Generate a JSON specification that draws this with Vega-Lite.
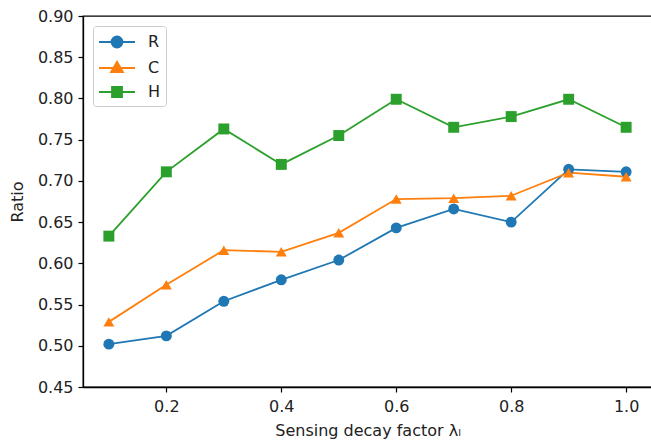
{
  "$schema": "https://vega.github.io/schema/vega-lite/v6.json",
  "width": 569,
  "height": 371,
  "autosize": "none",
  "padding": {"left": 83, "top": 16, "right": 0, "bottom": 59},
  "background": "white",
  "config": {
    "font": "DejaVu Sans",
    "view": {"stroke": "black", "strokeWidth": 1.3},
    "axis": {
      "grid": false,
      "domainColor": "black",
      "domainWidth": 1.3,
      "tickColor": "black",
      "tickSize": 5,
      "tickWidth": 1.2,
      "labelColor": "#222",
      "labelFont": "DejaVu Sans",
      "labelFontSize": 16,
      "titleFont": "DejaVu Sans",
      "titleFontSize": 16,
      "titleFontWeight": "normal",
      "titleColor": "#222"
    }
  },
  "data": {
    "values": [
      {"x": 0.1, "series": "R", "marker": "circle", "y": 0.502},
      {"x": 0.2, "series": "R", "marker": "circle", "y": 0.512},
      {"x": 0.3, "series": "R", "marker": "circle", "y": 0.554},
      {"x": 0.4, "series": "R", "marker": "circle", "y": 0.580},
      {"x": 0.5, "series": "R", "marker": "circle", "y": 0.604},
      {"x": 0.6, "series": "R", "marker": "circle", "y": 0.643},
      {"x": 0.7, "series": "R", "marker": "circle", "y": 0.666},
      {"x": 0.8, "series": "R", "marker": "circle", "y": 0.650},
      {"x": 0.9, "series": "R", "marker": "circle", "y": 0.714},
      {"x": 1.0, "series": "R", "marker": "circle", "y": 0.711},
      {"x": 0.1, "series": "C", "marker": "triangle", "y": 0.529},
      {"x": 0.2, "series": "C", "marker": "triangle", "y": 0.574},
      {"x": 0.3, "series": "C", "marker": "triangle", "y": 0.616},
      {"x": 0.4, "series": "C", "marker": "triangle", "y": 0.614},
      {"x": 0.5, "series": "C", "marker": "triangle", "y": 0.637},
      {"x": 0.6, "series": "C", "marker": "triangle", "y": 0.678},
      {"x": 0.7, "series": "C", "marker": "triangle", "y": 0.679},
      {"x": 0.8, "series": "C", "marker": "triangle", "y": 0.682},
      {"x": 0.9, "series": "C", "marker": "triangle", "y": 0.710},
      {"x": 1.0, "series": "C", "marker": "triangle", "y": 0.705},
      {"x": 0.1, "series": "H", "marker": "square", "y": 0.633},
      {"x": 0.2, "series": "H", "marker": "square", "y": 0.711},
      {"x": 0.3, "series": "H", "marker": "square", "y": 0.763},
      {"x": 0.4, "series": "H", "marker": "square", "y": 0.720},
      {"x": 0.5, "series": "H", "marker": "square", "y": 0.755},
      {"x": 0.6, "series": "H", "marker": "square", "y": 0.799},
      {"x": 0.7, "series": "H", "marker": "square", "y": 0.765},
      {"x": 0.8, "series": "H", "marker": "square", "y": 0.778},
      {"x": 0.9, "series": "H", "marker": "square", "y": 0.799},
      {"x": 1.0, "series": "H", "marker": "square", "y": 0.765}
    ]
  },
  "encoding": {
    "x": {
      "field": "x",
      "type": "quantitative",
      "scale": {"domain": [0.055, 1.045], "nice": false, "zero": false},
      "axis": {"values": [0.2, 0.4, 0.6, 0.8, 1.0], "format": ".1f", "labelPadding": 6, "titlePadding": 8},
      "title": "Sensing decay factor λₗ"
    },
    "y": {
      "field": "y",
      "type": "quantitative",
      "scale": {"domain": [0.45, 0.9], "nice": false, "zero": false},
      "axis": {"values": [0.45, 0.5, 0.55, 0.6, 0.65, 0.7, 0.75, 0.8, 0.85, 0.9], "format": ".2f", "labelPadding": 5, "titlePadding": 12},
      "title": "Ratio"
    },
    "color": {
      "field": "series",
      "type": "nominal",
      "scale": {"domain": ["R", "C", "H"], "range": ["#1f77b4", "#ff7f0e", "#2ca02c"]},
      "legend": {
        "title": null,
        "orient": "top-left",
        "offset": 10,
        "padding": 5,
        "strokeColor": "#cccccc",
        "fillColor": "white",
        "cornerRadius": 3,
        "symbolSize": 400,
        "symbolOffset": 8,
        "symbolStrokeWidth": 1.8,
        "labelFontSize": 16,
        "labelFont": "DejaVu Sans",
        "labelColor": "#222",
        "labelOffset": 20,
        "rowPadding": 5,
        "encode": {
          "symbols": {
            "update": {
              "shape": {"signal": "datum.value === 'R' ? 'M-1.8,0L1.8,0M0.55,0A0.55,0.55 0 1,1 -0.55,0A0.55,0.55 0 1,1 0.55,0Z' : datum.value === 'C' ? 'M-1.8,0L1.8,0M0,-0.62L0.6,0.42L-0.6,0.42Z' : 'M-1.8,0L1.8,0M-0.5,-0.5L0.5,-0.5L0.5,0.5L-0.5,0.5Z'"},
              "fill": {"signal": "scale('color', datum.value)"},
              "stroke": {"signal": "scale('color', datum.value)"},
              "fillOpacity": {"value": 1},
              "strokeWidth": {"value": 1.8}
            }
          }
        }
      }
    }
  },
  "layer": [
    {
      "mark": {"type": "line", "strokeWidth": 1.8}
    },
    {
      "mark": {"type": "point", "filled": true, "size": 120, "opacity": 1},
      "encoding": {
        "shape": {
          "field": "marker",
          "type": "nominal",
          "scale": {"domain": ["circle", "triangle", "square"], "range": ["circle", "triangle-up", "square"]},
          "legend": null
        }
      }
    }
  ]
}
